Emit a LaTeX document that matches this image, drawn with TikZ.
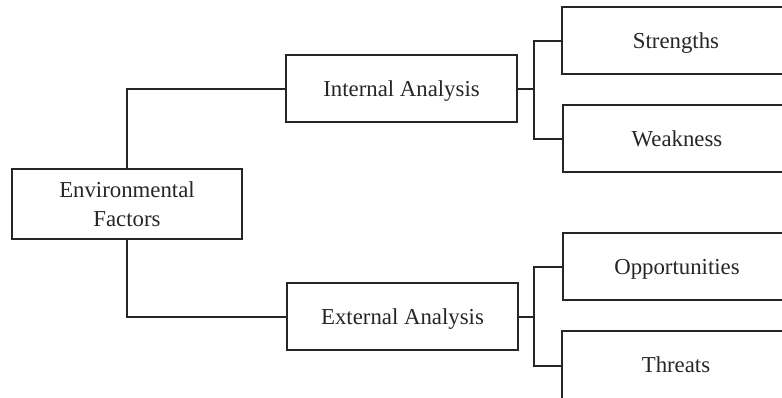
\documentclass[tikz,border=0pt]{standalone}
\usepackage{fontspec}
\setmainfont{Liberation Serif}
\begin{document}
\begin{tikzpicture}[x=1pt,y=-1pt,
  box/.style={draw=black!85,line width=1.3pt,inner sep=0pt,minimum height=67pt,
    font=\fontsize{22.8}{29}\selectfont,text=black!85},
  wide/.style={box,minimum width=231pt,text height=21pt,text depth=5pt},
  leaf/.style={box,minimum width=228pt,text height=20pt,text depth=5pt},
  conn/.style={draw=black!85,line width=2pt}]
\clip (0,0) rectangle (782,397);
\fill[white] (0,0) rectangle (782,397);
\node[box,minimum width=230pt,minimum height=70pt,align=center] (env) at (127,204) {Environmental\\Factors};
\node[wide] (int) at (401.5,88.5) {Internal Analysis};
\node[wide] (ext) at (402.5,316.5) {External Analysis};
\node[leaf] (str) at (676,40.5) {Strengths};
\node[leaf] (wea) at (677,138.5) {Weakness};
\node[leaf] (opp) at (677,266.5) {Opportunities};
\node[leaf,minimum height=70pt,text height=18.5pt,text depth=5pt] (thr) at (676,366) {Threats};
\draw[conn] (env.north) |- (int.west);
\draw[conn] (env.south) |- (ext.west);
\coordinate (j1) at ([xshift=16.5pt]int.east);
\coordinate (j2) at ([xshift=15.5pt]ext.east);
\draw[conn] (int.east) -- (j1);
\draw[conn] (str.west) -| (j1) |- (wea.west);
\draw[conn] (ext.east) -- (j2);
\draw[conn] (opp.west) -| (j2) |- (thr.west);
\end{tikzpicture}
\end{document}
